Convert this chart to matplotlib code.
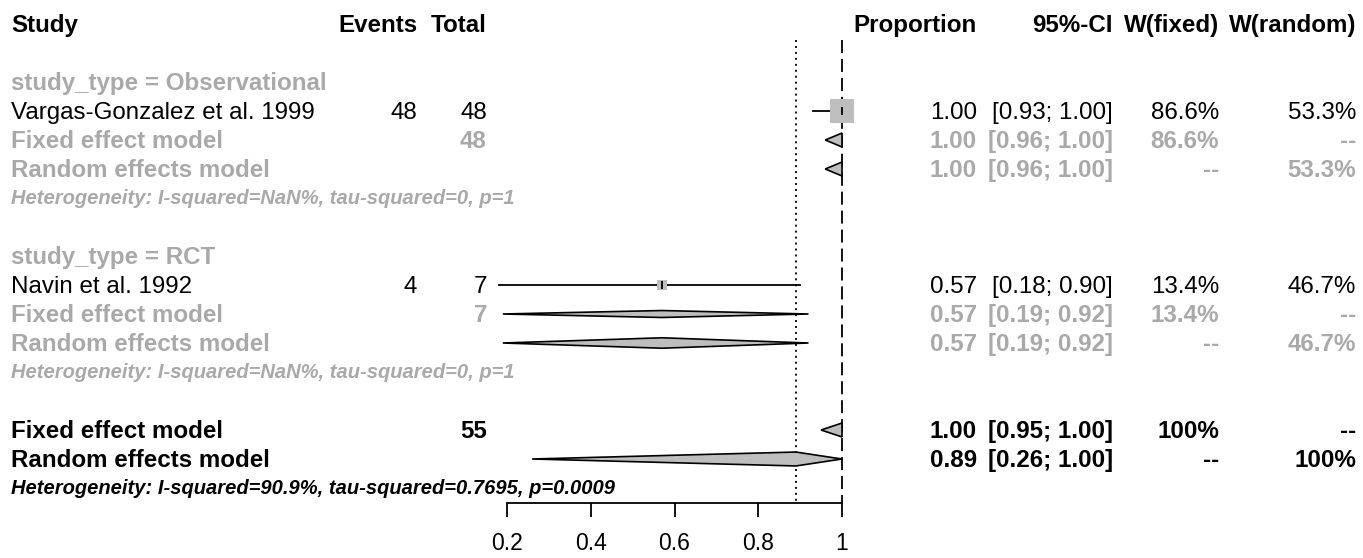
import matplotlib
matplotlib.use("Agg")
import matplotlib.pyplot as plt
import numpy as np

# ---------------- data ----------------
subgroups = ["Observational", "RCT"]
studies = ["Vargas-Gonzalez et al. 1999", "Navin et al. 1992"]
events = [48, 4]
totals = [48, 7]
study_est = [1.00, 0.57]
study_lo = [0.93, 0.18]
study_hi = [1.00, 0.90]
w_fixed = [86.6, 13.4]
w_random = [53.3, 46.7]

sub_fixed_est = [1.00, 0.57]
sub_fixed_lo = [0.96, 0.19]
sub_fixed_hi = [1.00, 0.92]
sub_random_est = [1.00, 0.57]
sub_random_lo = [0.96, 0.19]
sub_random_hi = [1.00, 0.92]
sub_het = ["Heterogeneity: I-squared=NaN%, tau-squared=0, p=1",
           "Heterogeneity: I-squared=NaN%, tau-squared=0, p=1"]

overall_total = 55
overall_fixed = [1.00, 0.95, 1.00]
overall_random = [0.89, 0.26, 1.00]
overall_w_fixed = "100%"
overall_w_random = "100%"
overall_het = "Heterogeneity: I-squared=90.9%, tau-squared=0.7695, p=0.0009"

headers = ["Study", "Events", "Total", "Proportion", "95%-CI", "W(fixed)", "W(random)"]
x_ticks = [0.2, 0.4, 0.6, 0.8, 1.0]
x_tick_labels = ["0.2", "0.4", "0.6", "0.8", "1"]

# ---------------- layout ----------------
W, H = 1363, 558
DPI = 100
ROW0, ROWH = 24, 29
GRAY = "#A9A9A9"
FILL = "#BEBEBE"
FONT = "Liberation Sans"
FS = 17.4
FS_HET = 14.5
FS_TICK = 16.5

fig = plt.figure(figsize=(W / DPI, H / DPI), dpi=DPI)
ytop = -ROW0 / ROWH
ybot = (H - ROW0) / ROWH

ax_t = fig.add_axes([0, 0, 1, 1])
ax_t.set_xlim(0, W)
ax_t.set_ylim(ybot, ytop)
ax_t.axis("off")

ax = fig.add_axes([507 / W, 0, 335 / W, 1])
ax.set_xlim(0.2, 1.0)
ax.set_ylim(ybot, ytop)
ax.patch.set_alpha(0)

col_x = {"Study": 11, "Events": 417, "Total": 487, "Proportion": 977,
         "95%-CI": 1113, "W(fixed)": 1219, "W(random)": 1356}
BASE = 7.8 / ROWH
BASE_HET = 6.0 / ROWH


def txt(x, row, s, color="black", weight="normal", ha="right", size=FS, style="normal",
        off=BASE):
    ax_t.text(x, row + off, s, color=color, fontweight=weight, ha=ha, va="baseline",
              fontsize=size, fontstyle=style, family=FONT)


def row_values(row, est, lo, hi, wf, wr, color, weight):
    txt(col_x["Proportion"], row, f"{est:.2f}", color, weight)
    txt(col_x["95%-CI"], row, f"[{lo:.2f}; {hi:.2f}]", color, weight)
    txt(col_x["W(fixed)"], row, wf, color, weight)
    txt(col_x["W(random)"], row, wr, color, weight)


def diamond(row, est, lo, hi, h):
    xs = [lo, est, hi, est, lo]
    ys = [row, row - h, row, row + h, row]
    ax.fill(xs, ys, facecolor=FILL, edgecolor="black", lw=1.2, zorder=4, clip_on=False)


# header
for i, hd in enumerate(headers):
    txt(col_x[hd], 0, hd, "black", "bold", ha="left" if i == 0 else "right")

row = 2
for g in range(len(subgroups)):
    txt(col_x["Study"], row, f"study_type = {subgroups[g]}", GRAY, "bold", ha="left")
    row += 1
    # study
    txt(col_x["Study"], row, studies[g], ha="left")
    txt(col_x["Events"], row, str(events[g]))
    txt(col_x["Total"], row, str(totals[g]))
    row_values(row, study_est[g], study_lo[g], study_hi[g], f"{w_fixed[g]:.1f}%", f"{w_random[g]:.1f}%", "black", "normal")
    side_px = 24 * np.sqrt(w_fixed[g] / max(w_fixed))
    side_px = max(side_px, 10.5)
    ax.plot([study_lo[g], study_hi[g]], [row, row], color="black", lw=1.3, zorder=3, clip_on=False)
    ax.scatter([study_est[g]], [row], marker="s", s=(side_px * 72 / DPI) ** 2, color=FILL,
               linewidths=0, zorder=5, clip_on=False)
    ax.plot([study_est[g]], [row], marker="|", ms=6, mew=1.3, color="black", zorder=6, clip_on=False)
    row += 1
    # subgroup fixed
    txt(col_x["Study"], row, "Fixed effect model", GRAY, "bold", ha="left")
    txt(col_x["Total"], row, str(totals[g]), GRAY, "bold")
    row_values(row, sub_fixed_est[g], sub_fixed_lo[g], sub_fixed_hi[g], f"{w_fixed[g]:.1f}%", "--", GRAY, "bold")
    diamond(row, sub_fixed_est[g], sub_fixed_lo[g], sub_fixed_hi[g], 0.24 if g == 0 else 0.12)
    row += 1
    # subgroup random
    txt(col_x["Study"], row, "Random effects model", GRAY, "bold", ha="left")
    row_values(row, sub_random_est[g], sub_random_lo[g], sub_random_hi[g], "--", f"{w_random[g]:.1f}%", GRAY, "bold")
    diamond(row, sub_random_est[g], sub_random_lo[g], sub_random_hi[g], 0.24 if g == 0 else 0.18)
    row += 1
    txt(col_x["Study"], row, sub_het[g], GRAY, "bold", ha="left", size=FS_HET, style="italic",
        off=BASE_HET)
    row += 2

# overall
txt(col_x["Study"], row, "Fixed effect model", "black", "bold", ha="left")
txt(col_x["Total"], row, str(overall_total), "black", "bold")
row_values(row, overall_fixed[0], overall_fixed[1], overall_fixed[2], overall_w_fixed, "--", "black", "bold")
diamond(row, overall_fixed[0], overall_fixed[1], overall_fixed[2], 0.24)
row += 1
txt(col_x["Study"], row, "Random effects model", "black", "bold", ha="left")
row_values(row, overall_random[0], overall_random[1], overall_random[2], "--", overall_w_random, "black", "bold")
diamond(row, overall_random[0], overall_random[1], overall_random[2], 0.24)
row += 1
txt(col_x["Study"], row, overall_het, "black", "bold", ha="left", size=FS_HET, style="italic",
    off=BASE_HET)

# reference lines
y_axis = 16.52
y_line_top = 0.55
ax.plot([overall_random[0]] * 2, [y_line_top, y_axis], color="black", lw=1.3,
        linestyle=(0, (1.1, 2.2)), zorder=2, clip_on=False)
ax.plot([overall_fixed[0]] * 2, [y_line_top, y_axis], color="black", lw=1.3,
        linestyle=(0, (7.2, 3.3)), zorder=2, clip_on=False)

# x axis
for s in ["top", "left", "right"]:
    ax.spines[s].set_visible(False)
ax.spines["bottom"].set_position(("data", y_axis))
ax.spines["bottom"].set_linewidth(1.3)
ax.set_yticks([])
ax.set_xticks(x_ticks)
ax.set_xticklabels(x_tick_labels, fontsize=FS_TICK, family=FONT)
ax.tick_params(axis="x", direction="out", length=10, width=1.3, pad=10.5)

fig.savefig("out.png", dpi=DPI)
